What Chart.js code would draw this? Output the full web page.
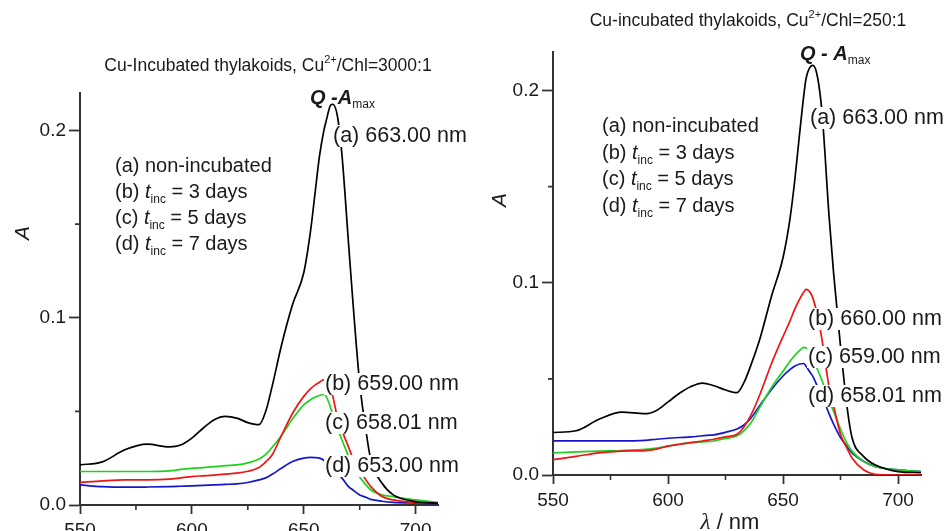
<!DOCTYPE html>
<html>
<head>
<meta charset="utf-8">
<script src="https://cdn.jsdelivr.net/npm/chart.js@4.4.1/dist/chart.umd.min.js"></script>
<style>
  html, body { margin: 0; padding: 0; background: #fff; overflow: hidden; }
  #page { position: relative; width: 948px; height: 531px; overflow: hidden; background: #fff; }
  .panel { position: absolute; top: 0; }
</style>
</head>
<body>
<div id="page">
  <div class="panel" style="left:0;"><canvas id="left-chart" width="470" height="560"></canvas></div>
  <div class="panel" style="left:470px;"><canvas id="right-chart" width="478" height="531"></canvas></div>
</div>
<script>
// wavelength grid (nm) shared by every curve
const wavelengths = [550, 560, 570, 580, 590, 595, 600, 605, 610, 615, 620, 625, 630, 633, 636, 640, 645, 650, 653, 655, 657, 659, 660, 662, 663, 665, 667, 670, 672, 675, 678, 680, 685, 690, 700, 710];

// left panel: Cu2+/Chl = 3000:1
const leftA = [0.0214, 0.023, 0.0295, 0.0325, 0.031, 0.032, 0.0357, 0.041, 0.0455, 0.0473, 0.0464, 0.044, 0.0429, 0.05, 0.064, 0.085, 0.107, 0.124, 0.146, 0.166, 0.186, 0.2, 0.205, 0.2135, 0.214, 0.208, 0.188, 0.14, 0.108, 0.065, 0.038, 0.024, 0.0116, 0.0054, 0.0018, 0.001];
const leftB = [0.0121, 0.0129, 0.0134, 0.0134, 0.0138, 0.0145, 0.0152, 0.0156, 0.016, 0.0165, 0.017, 0.018, 0.02, 0.023, 0.027, 0.037, 0.049, 0.058, 0.062, 0.064, 0.0655, 0.067, 0.067, 0.062, 0.058, 0.047, 0.04, 0.031, 0.025, 0.019, 0.013, 0.0098, 0.0045, 0.0027, 0.0013, 0.001];
const leftC = [0.0179, 0.0179, 0.0179, 0.0179, 0.0182, 0.019, 0.0196, 0.02, 0.0205, 0.021, 0.0214, 0.0225, 0.0245, 0.027, 0.031, 0.037, 0.046, 0.0535, 0.0562, 0.0575, 0.0585, 0.059, 0.058, 0.052, 0.048, 0.041, 0.035, 0.026, 0.021, 0.015, 0.0105, 0.008, 0.0054, 0.0045, 0.0027, 0.0013];
const leftD = [0.0107, 0.0098, 0.0095, 0.0096, 0.0098, 0.01, 0.0102, 0.0105, 0.0107, 0.011, 0.0113, 0.012, 0.0134, 0.0145, 0.0165, 0.0196, 0.0232, 0.025, 0.0254, 0.0253, 0.025, 0.0238, 0.0223, 0.02, 0.019, 0.017, 0.0145, 0.0098, 0.008, 0.0054, 0.004, 0.003, 0.002, 0.0014, 0.001, 0.0008];

// right panel: Cu2+/Chl = 250:1
const rightA = [0.0221, 0.023, 0.029, 0.0327, 0.0319, 0.0336, 0.038, 0.0425, 0.046, 0.0478, 0.0464, 0.0442, 0.0428, 0.048, 0.057, 0.071, 0.093, 0.113, 0.133, 0.152, 0.175, 0.197, 0.206, 0.2125, 0.213, 0.207, 0.188, 0.135, 0.105, 0.067, 0.034, 0.0195, 0.0097, 0.0053, 0.0018, 0.0012];
const rightB = [0.008, 0.0097, 0.0115, 0.0124, 0.0127, 0.0135, 0.015, 0.016, 0.0168, 0.0177, 0.0186, 0.0198, 0.0212, 0.025, 0.031, 0.042, 0.058, 0.072, 0.08, 0.086, 0.091, 0.095, 0.0965, 0.0947, 0.092, 0.083, 0.07, 0.046, 0.036, 0.0212, 0.0135, 0.0088, 0.0027, 0.0004, 0, 0];
const rightC = [0.0115, 0.012, 0.0124, 0.0127, 0.0133, 0.014, 0.015, 0.016, 0.0168, 0.0172, 0.0177, 0.019, 0.0204, 0.023, 0.027, 0.0354, 0.0455, 0.054, 0.059, 0.062, 0.0645, 0.0664, 0.0662, 0.0637, 0.061, 0.0549, 0.049, 0.039, 0.033, 0.0239, 0.016, 0.0124, 0.0071, 0.0044, 0.0027, 0.0018];
const rightD = [0.0177, 0.0177, 0.0177, 0.0177, 0.018, 0.0186, 0.0191, 0.0195, 0.0198, 0.0204, 0.0209, 0.0222, 0.0239, 0.026, 0.0295, 0.0363, 0.0445, 0.0515, 0.0548, 0.0566, 0.0576, 0.058, 0.0566, 0.053, 0.0513, 0.046, 0.041, 0.0319, 0.0265, 0.0195, 0.0145, 0.0115, 0.0071, 0.0044, 0.0027, 0.0018];

const seriesColors = ["#000000", "#ee1515", "#1fd21f", "#1515cc"];
const xTicks = [550, 600, 650, 700];
const xMinorTicks = [575, 625, 675];
const yMinorTicks = [0.05, 0.15];
const leftPeaks = ["663.00", "659.00", "658.01", "653.00"];
const rightPeaks = ["663.00", "660.00", "659.00", "658.01"];
const legendDays = ["3", "5", "7"];

const FONT = '"Liberation Sans", Arial, Helvetica, sans-serif';
const SERIF = '"Liberation Serif", "DejaVu Serif", serif';
const TEXT = "#1a1a1a";
const AXIS = "#333333";

// text pieces
const n = (t, s = 20) => ({ t, font: `${s}px ${FONT}`, dy: 0 });
const it = (t, s = 20) => ({ t, font: `italic ${s}px ${FONT}`, dy: 0 });
const bi = (t, s = 20) => ({ t, font: `italic bold ${s}px ${FONT}`, dy: 0 });
const sub = (t, s = 12, dy = 5) => ({ t, font: `${s}px ${FONT}`, dy });
const sup = (t, s = 11, dy = -8) => ({ t, font: `${s}px ${FONT}`, dy });

function drawRich(ctx, item) {
  let w = 0;
  item.parts.forEach(p => { ctx.font = p.font; w += ctx.measureText(p.t).width; });
  let x = item.x;
  if (item.align === "center") x -= w / 2;
  if (item.box) {
    ctx.fillStyle = "#fff";
    ctx.fillRect(x - 1, item.y - 17, w + 2, 22);
  }
  ctx.fillStyle = TEXT;
  ctx.textBaseline = "alphabetic";
  ctx.textAlign = "left";
  item.parts.forEach(p => {
    ctx.font = p.font;
    ctx.fillText(p.t, x, item.y + p.dy);
    x += ctx.measureText(p.t).width;
  });
}

function legendLines(x, y0, gap) {
  const out = [{ x, y: y0, parts: [n("(a) non-incubated")] }];
  legendDays.forEach((d, i) => {
    out.push({ x, y: y0 + gap * (i + 1), parts: [n(`(${"bcd"[i]}) `), it("t"), sub("inc"), n(` = ${d} days`)] });
  });
  return out;
}

function peakLabels(xs, ys, peaks) {
  return peaks.map((p, i) => ({ x: xs[i], y: ys[i], box: true, parts: [n(`(${"abcd"[i]}) ${p} nm`, 21.5)] }));
}

function decorPlugin(cfg) {
  return {
    id: "decor",
    afterDatasetsDraw(chart) {
      const ctx = chart.ctx;
      const xs = chart.scales.x, ys = chart.scales.y;
      ctx.save();
      // minor ticks
      ctx.strokeStyle = AXIS;
      ctx.lineWidth = 1.6;
      ctx.beginPath();
      xMinorTicks.forEach(v => {
        const px = xs.getPixelForValue(v);
        ctx.moveTo(px, xs.top);
        ctx.lineTo(px, xs.top + 5);
      });
      yMinorTicks.forEach(v => {
        const py = ys.getPixelForValue(v);
        ctx.moveTo(ys.right, py);
        ctx.lineTo(ys.right - 5, py);
      });
      ctx.stroke();
      cfg.texts.forEach(t => drawRich(ctx, t));
      // rotated y title
      ctx.translate(cfg.yTitle.x, cfg.yTitle.y);
      ctx.rotate(-Math.PI / 2);
      ctx.font = `italic 21px ${FONT}`;
      ctx.fillStyle = TEXT;
      ctx.textAlign = "center";
      ctx.textBaseline = "middle";
      ctx.fillText("A", 0, 0);
      ctx.restore();
    }
  };
}

function makePanel(canvasId, values, cfg) {
  const datasets = values.map((vals, k) => ({
    data: wavelengths.map((w, i) => ({ x: w, y: vals[i] })),
    borderColor: seriesColors[k],
    borderWidth: 1.7,
    pointRadius: 0,
    cubicInterpolationMode: "monotone",
    fill: false,
  }));
  const tickFont = { family: FONT, size: 19 };
  return new Chart(document.getElementById(canvasId), {
    type: "line",
    data: { datasets },
    options: {
      responsive: false,
      animation: false,
      events: [],
      layout: { padding: cfg.padding },
      plugins: { legend: { display: false }, tooltip: { enabled: false } },
      scales: {
        x: {
          type: "linear", min: 550, max: 710,
          afterFit: s => { s.height = cfg.xHeight; },
          afterBuildTicks: s => { s.ticks = xTicks.map(v => ({ value: v })); },
          ticks: { font: tickFont, color: TEXT, padding: 5, maxRotation: 0 },
          grid: { drawOnChartArea: false, tickLength: 9, tickWidth: 1.8, tickColor: AXIS },
          border: { color: AXIS, width: 2 },
        },
        y: {
          min: 0, max: 0.22,
          afterFit: s => { s.width = cfg.yWidth; },
          ticks: { stepSize: 0.1, includeBounds: false, font: tickFont, color: TEXT, padding: 3, callback: v => v.toFixed(1) },
          grid: { drawOnChartArea: false, tickLength: 11, tickWidth: 1.8, tickColor: AXIS },
          border: { color: AXIS, width: 2 },
        },
      },
    },
    plugins: [decorPlugin(cfg)],
  });
}

makePanel("left-chart", [leftA, leftB, leftC, leftD], {
  padding: { top: 93, right: 32, left: 0, bottom: 0 },
  yWidth: 80, xHeight: 55,
  yTitle: { x: 23, y: 233 },
  texts: [
    { x: 268, y: 71, align: "center", parts: [n("Cu-Incubated thylakoids, Cu", 17.5), sup("2+"), n("/Chl=3000:1", 17.5)] },
    { x: 310, y: 104, parts: [bi("Q -A"), sub("max", 12, 4)] },
    ...peakLabels([333, 325, 325, 325], [142, 390, 429, 472], leftPeaks),
    ...legendLines(115, 172, 26),
  ],
});

makePanel("right-chart", [rightA, rightB, rightC, rightD], {
  padding: { top: 52, right: 27, left: 0, bottom: 0 },
  yWidth: 83, xHeight: 56,
  yTitle: { x: 30, y: 200 },
  texts: [
    { x: 278, y: 26, align: "center", parts: [n("Cu-incubated thylakoids, Cu", 17.5), sup("2+"), n("/Chl=250:1", 17.5)] },
    { x: 330, y: 60, parts: [bi("Q - A"), sub("max", 12, 4)] },
    ...peakLabels([340, 338, 338, 338], [124, 325, 363, 402], rightPeaks),
    ...legendLines(132, 132, 26.5),
    { x: 260, y: 529, align: "center", parts: [{ t: "\u03bb", font: `italic 23px ${SERIF}`, dy: 0 }, n(" / nm", 22)] },
  ],
});
</script>
</body>
</html>
